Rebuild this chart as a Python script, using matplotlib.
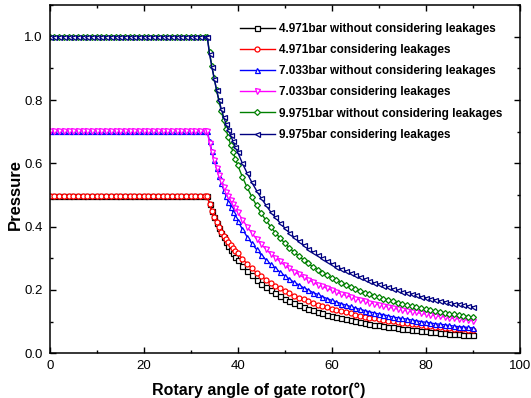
import matplotlib
matplotlib.use("Agg")
import matplotlib.pyplot as plt
from matplotlib.ticker import MultipleLocator

plt.rcParams['font.family'] = ['Liberation Sans', 'DejaVu Sans']

# gate rotor angle (deg): suction plateau, then expansion part
angle_flat = list(range(0, 34)) + [33.5]
angle_drop = [34.0, 34.5, 35.0, 35.5, 36.0, 36.5, 37.0, 37.5, 38.0, 38.5, 39.0, 39.5, 40.0] + list(range(41, 91))

# plateau pressure level of each case
flat_4971 = 0.497
flat_7033 = 0.703
flat_9975 = 1.0

# pressure after the plateau
p_4971_no_leak = [0.473, 0.451, 0.431, 0.413, 0.396, 0.381, 0.366, 0.352, 0.339, 0.327, 0.316, 0.305, 0.295,
                  0.277, 0.260, 0.246, 0.232, 0.220, 0.209, 0.199, 0.189, 0.181, 0.173,
                  0.166, 0.159, 0.153, 0.147, 0.141, 0.136, 0.131, 0.127, 0.122, 0.118,
                  0.114, 0.111, 0.107, 0.104, 0.101, 0.098, 0.095, 0.093, 0.090, 0.088,
                  0.086, 0.083, 0.082, 0.080, 0.078, 0.076, 0.074, 0.073, 0.071, 0.069,
                  0.068, 0.066, 0.065, 0.064, 0.062, 0.061, 0.060, 0.059, 0.058, 0.057]
p_4971_leak = [0.470, 0.450, 0.431, 0.414, 0.398, 0.384, 0.371, 0.360, 0.351, 0.342, 0.333, 0.324, 0.316,
               0.298, 0.283, 0.268, 0.255, 0.244, 0.233, 0.222, 0.213, 0.205, 0.197,
               0.189, 0.182, 0.176, 0.170, 0.164, 0.159, 0.154, 0.149, 0.145, 0.141,
               0.136, 0.133, 0.129, 0.126, 0.122, 0.119, 0.116, 0.113, 0.111, 0.108,
               0.106, 0.103, 0.101, 0.099, 0.097, 0.095, 0.093, 0.091, 0.089, 0.087,
               0.085, 0.084, 0.083, 0.081, 0.080, 0.078, 0.077, 0.076, 0.074, 0.073]
p_7033_no_leak = [0.669, 0.638, 0.610, 0.584, 0.560, 0.538, 0.517, 0.498, 0.479, 0.463, 0.447, 0.432, 0.418,
                  0.392, 0.368, 0.347, 0.328, 0.311, 0.295, 0.281, 0.268, 0.256, 0.245,
                  0.234, 0.224, 0.216, 0.207, 0.200, 0.192, 0.186, 0.179, 0.173, 0.167,
                  0.162, 0.157, 0.152, 0.148, 0.143, 0.139, 0.135, 0.131, 0.128, 0.124,
                  0.122, 0.118, 0.115, 0.112, 0.110, 0.108, 0.105, 0.103, 0.100, 0.098,
                  0.096, 0.093, 0.092, 0.090, 0.088, 0.086, 0.084, 0.083, 0.082, 0.080]
p_7033_leak = [0.664, 0.636, 0.610, 0.585, 0.562, 0.543, 0.525, 0.510, 0.496, 0.484, 0.471, 0.458, 0.446,
               0.422, 0.400, 0.380, 0.361, 0.344, 0.329, 0.314, 0.302, 0.290, 0.278,
               0.268, 0.258, 0.249, 0.240, 0.232, 0.225, 0.217, 0.211, 0.205, 0.199,
               0.193, 0.188, 0.183, 0.178, 0.173, 0.169, 0.165, 0.160, 0.157, 0.153,
               0.150, 0.146, 0.143, 0.140, 0.137, 0.134, 0.131, 0.129, 0.126, 0.124,
               0.121, 0.119, 0.117, 0.115, 0.112, 0.110, 0.109, 0.107, 0.105, 0.103]
p_9975_no_leak = [0.951, 0.908, 0.868, 0.831, 0.797, 0.766, 0.736, 0.708, 0.682, 0.658, 0.636, 0.614, 0.594,
                  0.557, 0.524, 0.494, 0.467, 0.442, 0.420, 0.400, 0.381, 0.364, 0.348,
                  0.333, 0.319, 0.307, 0.295, 0.284, 0.273, 0.264, 0.255, 0.246, 0.238,
                  0.230, 0.223, 0.216, 0.210, 0.204, 0.198, 0.192, 0.187, 0.182, 0.177,
                  0.173, 0.168, 0.164, 0.160, 0.156, 0.153, 0.149, 0.146, 0.142, 0.139,
                  0.136, 0.133, 0.131, 0.128, 0.125, 0.123, 0.120, 0.118, 0.116, 0.114]
p_9975_leak = [0.945, 0.905, 0.867, 0.832, 0.800, 0.772, 0.747, 0.725, 0.706, 0.688, 0.670, 0.652, 0.635,
               0.600, 0.569, 0.540, 0.514, 0.490, 0.468, 0.447, 0.429, 0.412, 0.396,
               0.381, 0.367, 0.354, 0.342, 0.330, 0.320, 0.309, 0.300, 0.291, 0.283,
               0.274, 0.267, 0.260, 0.253, 0.246, 0.240, 0.234, 0.228, 0.223, 0.218,
               0.213, 0.208, 0.203, 0.199, 0.195, 0.191, 0.187, 0.183, 0.179, 0.176,
               0.172, 0.169, 0.166, 0.163, 0.160, 0.157, 0.155, 0.152, 0.149, 0.147]

series = [
    ('4.971bar without considering leakages', flat_4971, p_4971_no_leak, 'black', 's'),
    ('4.971bar considering leakages', flat_4971, p_4971_leak, 'red', 'o'),
    ('7.033bar without considering leakages', flat_7033, p_7033_no_leak, 'blue', '^'),
    ('7.033bar considering leakages', flat_7033, p_7033_leak, 'magenta', 'v'),
    ('9.9751bar without considering leakages', flat_9975, p_9975_no_leak, 'green', 'D'),
    ('9.975bar considering leakages', flat_9975, p_9975_leak, 'navy', '<'),
]

fig = plt.figure(figsize=(5.31, 3.98), dpi=100)
ax = fig.add_axes([0.0936, 0.1123, 0.8852, 0.8751])

angle = angle_flat + angle_drop
for label, flat, drop, color, marker in series:
    pressure = [flat] * len(angle_flat) + drop
    ms = 3.0 if marker == 'D' else 3.6
    ax.plot(angle, pressure, color=color, marker=marker, markersize=ms,
            markerfacecolor='white', markeredgecolor=color, markeredgewidth=0.9,
            linewidth=1.0, label=label)

ax.set_xlim(0, 100)
ax.set_ylim(0, 1.1)
ax.xaxis.set_major_locator(MultipleLocator(20))
ax.xaxis.set_minor_locator(MultipleLocator(10))
ax.yaxis.set_major_locator(MultipleLocator(0.2))
ax.yaxis.set_minor_locator(MultipleLocator(0.1))
ax.yaxis.set_major_formatter(plt.FormatStrFormatter('%.1f'))
ax.tick_params(which='both', direction='in', top=True, right=True, labelsize=9.5, width=1.0)
ax.tick_params(which='major', length=4, pad=5)
ax.tick_params(which='minor', length=2.5)
for s in ax.spines.values():
    s.set_linewidth(1.1)

ax.set_xlabel('Rotary angle of gate rotor(°)', fontsize=11.5, fontweight='bold', labelpad=4)
ax.set_ylabel('Pressure', fontsize=12, fontweight='bold', labelpad=2)
ax.xaxis.set_label_coords(0.445, -0.085)
ax.yaxis.set_label_coords(-0.058, 0.457)

leg = ax.legend(loc='upper right', frameon=False, handlelength=3.0,
                handletextpad=0.3, labelspacing=0.78, borderaxespad=1.1,
                prop={'weight': 'bold', 'size': 8.5})

fig.savefig('out.png', dpi=100)
